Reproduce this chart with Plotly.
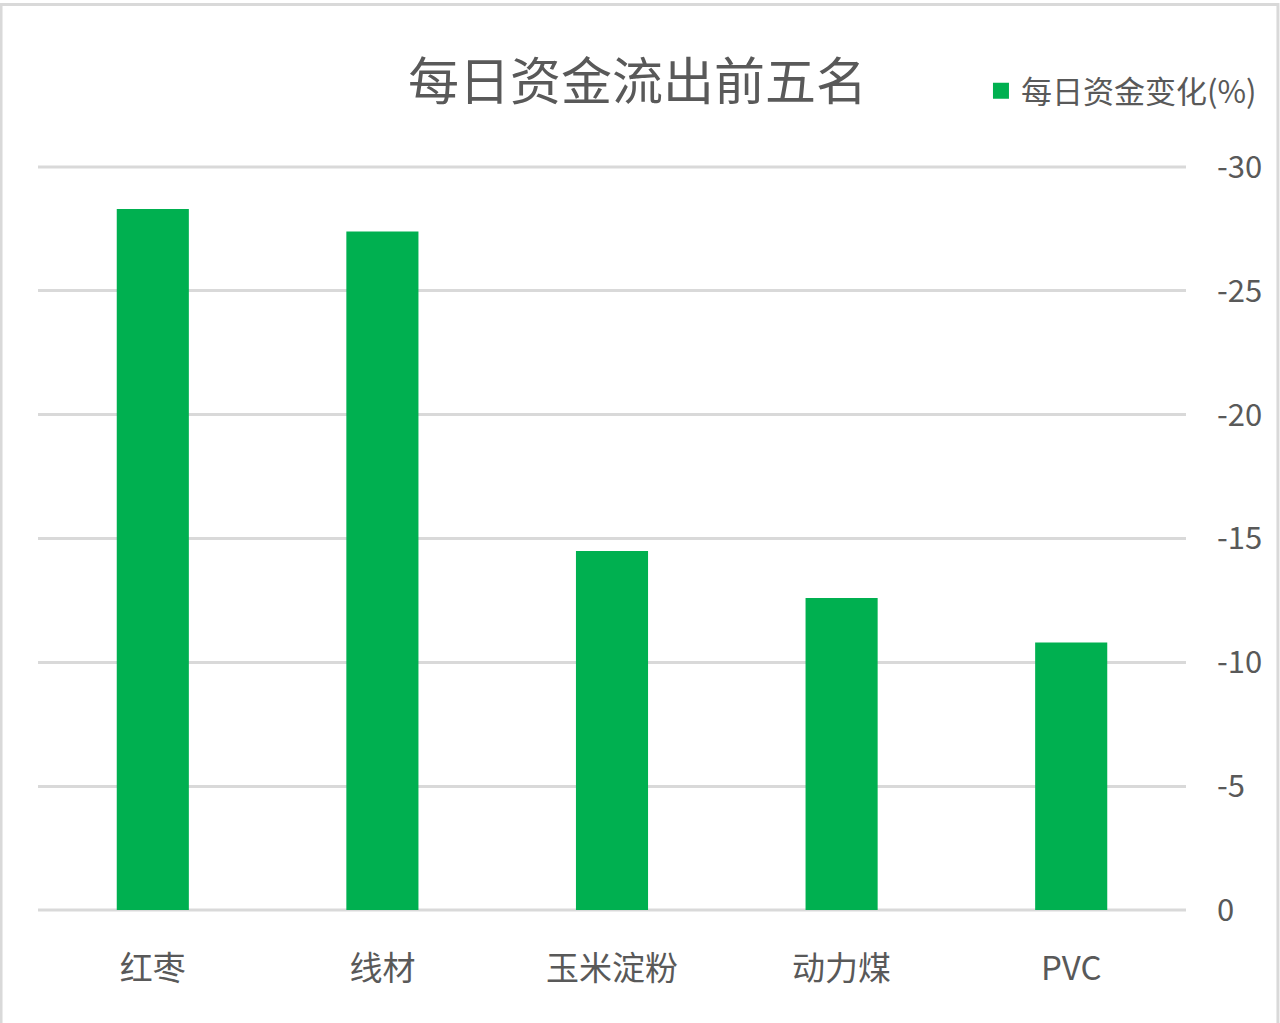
import plotly.graph_objects as go

categories = ["红枣", "线材", "玉米淀粉", "动力煤", "PVC"]
values = [-28.3, -27.4, -14.5, -12.6, -10.8]
tick_vals = [0, -5, -10, -15, -20, -25, -30]
tick_text = ["0", "-5", "-10", "-15", "-20", "-25", "-30"]
series_name = "每日资金变化(%)"
title_text = "每日资金流出前五名"

FONT = "Noto Sans CJK SC"
GRAY = "#595959"
GREEN = "#00b050"
GRID = "#d9d9d9"

fig = go.Figure()
fig.add_trace(go.Bar(
    x=categories, y=values, name=series_name, showlegend=False,
    marker=dict(color=GREEN, line=dict(width=0)),
))
# legend entry with a larger square symbol
fig.add_trace(go.Scatter(
    x=[None], y=[None], mode="markers", name=series_name, showlegend=True,
    marker=dict(symbol="square", size=18, color=GREEN),
))

# gridlines at the range edges (plotly omits them), drawn unclipped
edge_lines = [dict(type="line", xref="paper", yref="paper", x0=0, x1=1, y0=p, y1=p,
                   line=dict(color=GRID, width=3), layer="below")
              for p in (0, 1)]

fig.update_layout(
    width=1280, height=1023,
    margin=dict(l=38, r=94, t=167, b=113),
    paper_bgcolor="white", plot_bgcolor="white",
    bargap=0.686,
    font=dict(family=FONT, color=GRAY),
    title=dict(text=title_text, x=0.498, xanchor="center",
               y=0.920, yanchor="middle",
               font=dict(size=51, family=FONT, color=GRAY)),
    showlegend=True,
    legend=dict(x=0.8214, y=1.102, xanchor="left", yanchor="middle",
                font=dict(size=31, family=FONT, color=GRAY),
                itemwidth=30, bgcolor="rgba(0,0,0,0)"),
    xaxis=dict(showgrid=False, zeroline=False, showline=False,
               tickfont=dict(size=33, family=FONT, color=GRAY),
               ticks="", ticklabelstandoff=36),
    yaxis=dict(side="right", range=[0, -30], tickvals=tick_vals, ticktext=tick_text,
               showgrid=True, gridcolor=GRID, gridwidth=3,
               zeroline=False, showline=False, ticks="",
               ticklabelstandoff=30,
               tickfont=dict(size=31, family=FONT, color=GRAY)),
    shapes=edge_lines + [dict(type="rect", xref="paper", yref="paper",
                              x0=-0.0322, x1=1.0801, y0=-0.2, y1=1.2187,
                              line=dict(color=GRID, width=3), layer="below")],
)

fig.write_html("out.html", config={"displayModeBar": False},
               post_script="document.body.style.margin='0';")
